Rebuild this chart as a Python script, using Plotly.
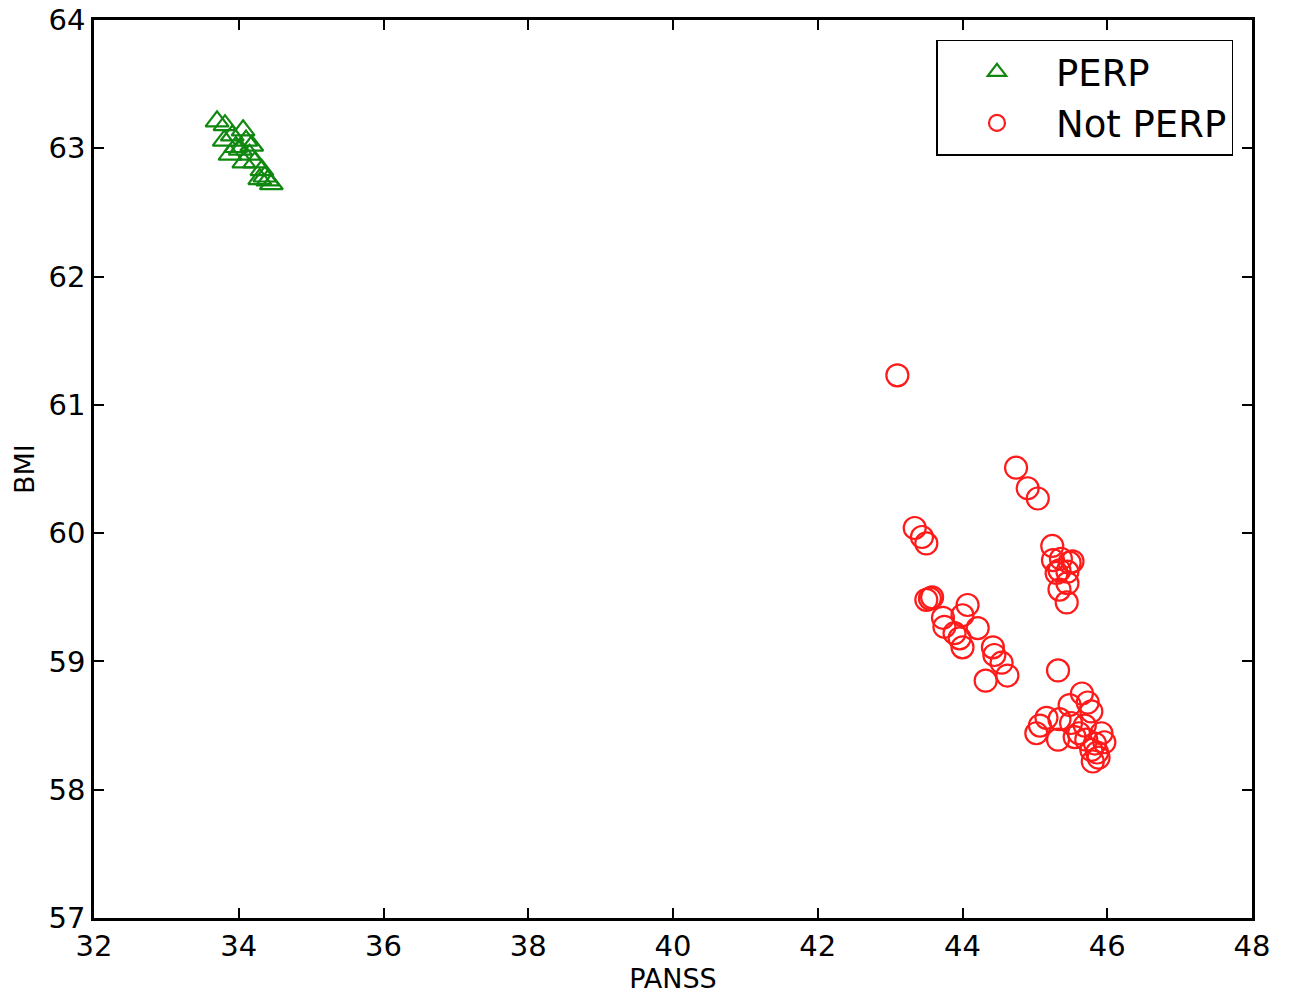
import plotly.graph_objects as go

# PERP (green triangles)
perp_panss = [33.70, 33.81, 33.91, 34.06, 34.10, 34.02, 33.88, 34.15, 34.22, 34.32,
              34.40, 34.07, 33.96, 33.80, 34.29, 34.45, 34.36, 34.18]
perp_bmi = [63.21, 63.18, 63.10, 63.14, 63.06, 62.99, 62.95, 62.95, 62.89, 62.83,
            62.75, 62.89, 63.01, 63.06, 62.76, 62.72, 62.78, 63.02]

# Not PERP (red circles)
notperp_panss = [43.10, 44.74, 44.90, 45.04, 43.34, 43.44, 43.50, 43.55, 43.50, 43.58,
                 44.07, 43.73, 44.00, 43.75, 43.89, 44.21, 44.00, 43.96, 44.42, 44.44,
                 44.54, 44.62, 44.32, 45.24, 45.36, 45.48, 45.52, 45.34, 45.45, 45.34,
                 45.44, 45.45, 45.32, 45.65, 45.48, 45.73, 45.78, 45.34, 45.07, 45.16,
                 45.02, 45.32, 45.69, 45.55, 45.83, 45.92, 45.96, 45.86, 45.78, 45.71,
                 45.61, 45.50, 45.30, 45.25, 45.88, 45.80]
notperp_bmi = [61.23, 60.51, 60.35, 60.27, 60.04, 59.97, 59.92, 59.49, 59.48, 59.50,
               59.44, 59.34, 59.36, 59.27, 59.22, 59.26, 59.11, 59.18, 59.11, 59.05,
               58.99, 58.89, 58.85, 59.90, 59.80, 59.77, 59.78, 59.71, 59.70, 59.56,
               59.46, 59.61, 58.93, 58.75, 58.66, 58.68, 58.61, 58.55, 58.50, 58.56,
               58.44, 58.39, 58.50, 58.41, 58.36, 58.44, 58.37, 58.29, 58.31, 58.39,
               58.44, 58.52, 59.69, 59.79, 58.25, 58.22]

x_ticks = [32, 34, 36, 38, 40, 42, 44, 46, 48]
y_ticks = [57, 58, 59, 60, 61, 62, 63, 64]

FONT = "DejaVu Sans"

fig = go.Figure()
fig.add_trace(go.Scatter(
    x=perp_panss, y=perp_bmi, mode="markers", name="PERP",
    marker=dict(symbol="triangle-up-open", size=20, color="#108810",
                line=dict(width=2.2, color="#108810")),
))
fig.add_trace(go.Scatter(
    x=notperp_panss, y=notperp_bmi, mode="markers", name="Not PERP",
    marker=dict(symbol="circle-open", size=22, color="#ff1a1a",
                line=dict(width=2.2, color="#ff1a1a")),
))

axis_common = dict(
    showgrid=False, zeroline=False, showline=True, linecolor="black", linewidth=2.5,
    mirror="ticks", ticks="inside", ticklen=10, tickwidth=1.5, tickcolor="black",
    tickfont=dict(family=FONT, size=29, color="black"), automargin=False,
    ticklabeloverflow="allow",
)

fig.update_xaxes(range=[32, 48], tickvals=x_ticks, ticktext=[str(v) for v in x_ticks],
                 title=dict(text="PANSS", font=dict(family=FONT, size=27, color="black"),
                            standoff=0),
                 **axis_common)
fig.update_yaxes(range=[57, 64], tickvals=y_ticks, ticktext=[str(v) for v in y_ticks],
                 **axis_common)

fig.add_annotation(
    text="BMI", xref="paper", yref="paper", x=0, y=0.5, xshift=-70,
    textangle=-90, showarrow=False, xanchor="center", yanchor="middle",
    font=dict(family=FONT, size=27, color="black"),
)

fig.update_layout(
    width=1291, height=994,
    margin=dict(l=94, r=39, t=20, b=76),
    plot_bgcolor="white", paper_bgcolor="white",
    font=dict(family=FONT, color="black"),
    legend=dict(
        x=0.984, y=0.978, xanchor="right", yanchor="top",
        bordercolor="black", borderwidth=1.5, bgcolor="white",
        font=dict(family=FONT, size=37, color="black"),
        itemwidth=108,
    ),
)

fig.write_html(
    "out.html",
    config={"displayModeBar": False},
    post_script="document.body.style.margin='0';document.body.style.overflow='hidden';",
)
